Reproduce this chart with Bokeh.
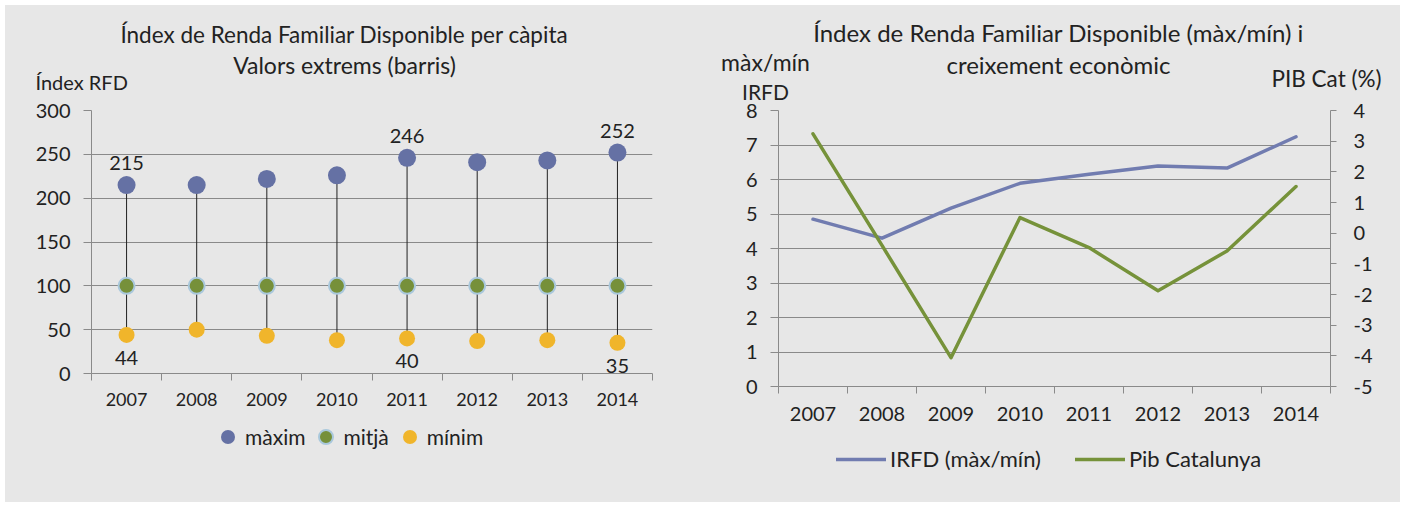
from bokeh.plotting import figure
from bokeh.models import (Range1d, LinearAxis, FixedTicker, Label, LabelSet,
                          Legend, LegendItem, ColumnDataSource, Spacer)
from bokeh.layouts import row, column
from bokeh.embed import file_html
from bokeh.resources import INLINE
from bokeh.core.properties import value

# ---------------- data ----------------
years = ["2007", "2008", "2009", "2010", "2011", "2012", "2013", "2014"]
rfd_max = [215, 215, 222, 226, 246, 241, 243, 252]
rfd_mean = [100, 100, 100, 100, 100, 100, 100, 100]
rfd_min = [44, 50, 43, 38, 40, 37, 38, 35]
labelled_years = ["2007", "2011", "2014"]
rfd_ticks = [0, 50, 100, 150, 200, 250, 300]

irfd_ratio = [4.85, 4.30, 5.17, 5.89, 6.15, 6.39, 6.33, 7.24]
pib_cat = [3.24, -0.40, -4.06, 0.51, -0.47, -1.88, -0.58, 1.52]
irfd_ticks = [0, 1, 2, 3, 4, 5, 6, 7, 8]
pib_ticks = [-5, -4, -3, -2, -1, 0, 1, 2, 3, 4]

# ---------------- style ----------------
FONT = "Lato"
BG = "#e7e7e7"
GRID = "#8a8a8a"
TXT = "#222222"
C_MAX = "#6571a4"
C_MEAN = "#76903a"
C_MEAN_EDGE = "#a9c8dc"
C_MIN = "#f0b52b"
C_BLUE = "#717cb0"
C_GREEN = "#76923a"

n = len(years)
xc = [i + 0.5 for i in range(n)]
xb = list(range(n + 1))

W_ALL, H_HEAD, H_FOOT, OVERLAP = 1395, 100, 78, 9


def base_fig(width, height, ymin, ymax, bl, br, bt, bb, xsize):
    p = figure(width=width, height=height, x_range=Range1d(0, n),
               y_range=Range1d(ymin, ymax), output_backend="svg",
               toolbar_location=None, min_border_left=bl, min_border_right=br,
               min_border_top=bt, min_border_bottom=bb,
               background_fill_color=BG, border_fill_color=BG,
               border_fill_alpha=0, outline_line_color=None)
    p.xgrid.visible = False
    ax = p.xaxis[0]
    ax.ticker = FixedTicker(ticks=xc, minor_ticks=xb)
    ax.major_label_overrides = {c: y for c, y in zip(xc, years)}
    ax.axis_line_color = GRID
    ax.major_tick_line_color = None
    ax.major_tick_out = 0
    ax.major_tick_in = 0
    ax.minor_tick_line_color = GRID
    ax.minor_tick_out = 7
    ax.minor_tick_in = 0
    ax.major_label_standoff = 12
    ax.major_label_text_font = FONT
    ax.major_label_text_font_size = xsize
    ax.major_label_text_color = TXT
    return p


def style_y(ax, ticks, standoff):
    ax.ticker = FixedTicker(ticks=ticks)
    ax.major_label_overrides = {t: str(t) for t in ticks}
    ax.axis_line_color = GRID
    ax.major_tick_line_color = GRID
    ax.major_tick_out = 8
    ax.major_tick_in = 0
    ax.minor_tick_line_color = None
    ax.major_label_standoff = standoff
    ax.major_label_text_font = FONT
    ax.major_label_text_font_size = "20px"
    ax.major_label_text_color = TXT


def blank_fig(width, height):
    # frame covers the whole strip; its ranges are unused (texts and
    # legends are placed in pixels)
    p = figure(width=width, height=height, x_range=Range1d(-2, -1),
               y_range=Range1d(-2, -1), output_backend="svg",
               toolbar_location=None, x_axis_type=None, y_axis_type=None,
               min_border=0, background_fill_color=BG, border_fill_color=BG,
               outline_line_color=None)
    p.grid.visible = False
    return p


# ---------------- header (titles and axis captions) ----------------
head = blank_fig(W_ALL, H_HEAD)
head_texts = [
    ("Índex de Renda Familiar Disponible per càpita", 339, 71, "22.5px", "center"),
    ("Valors extrems (barris)", 339, 41, "23px", "center"),
    ("Índex RFD", 30, 24, "20px", "left"),
    ("Índex de Renda Familiar Disponible (màx/mín) i", 1053, 73, "24px", "center"),
    ("creixement econòmic", 1053, 41, "24px", "center"),
    ("màx/mín", 760, 44, "23px", "center"),
    ("IRFD", 760, 14, "21px", "center"),
    ("PIB Cat (%)", 1321, 27, "22.5px", "center"),
]
for t, hx, hy, fs, al in head_texts:
    head.add_layout(Label(x=hx, y=hy, x_units="screen", y_units="screen",
                          text=t, text_font=FONT, text_font_size=fs,
                          text_color=TXT, text_align=al,
                          text_baseline="middle"))

# ---------------- left chart ----------------
p1 = base_fig(694, 315, 0, 300, 86, 47, 14, 38, "18px")
style_y(p1.yaxis[0], rfd_ticks, 13)
p1.ygrid.ticker = FixedTicker(ticks=rfd_ticks)
p1.ygrid.grid_line_color = GRID

p1.segment(x0=xc, y0=rfd_min, x1=xc, y1=rfd_max, line_color="#202020",
           line_width=1)
mk_max = dict(size=18, fill_color=C_MAX, line_color=None)
mk_mean = dict(size=16, fill_color=C_MEAN, line_color=C_MEAN_EDGE, line_width=2)
mk_min = dict(size=16, fill_color=C_MIN, line_color=None)
p1.scatter(xc, rfd_max, **mk_max)
p1.scatter(xc, rfd_mean, **mk_mean)
p1.scatter(xc, rfd_min, **mk_min)

idx = [years.index(y) for y in labelled_years]
src_top = ColumnDataSource(dict(x=[xc[i] for i in idx],
                                y=[rfd_max[i] for i in idx],
                                t=[str(rfd_max[i]) for i in idx]))
src_bot = ColumnDataSource(dict(x=[xc[i] for i in idx],
                                y=[rfd_min[i] for i in idx],
                                t=[str(rfd_min[i]) for i in idx]))
for src, off in ((src_top, 22), (src_bot, -23)):
    p1.add_layout(LabelSet(x="x", y="y", text="t", source=src, y_offset=off,
                           text_align="center", text_baseline="middle",
                           text_font=value(FONT), text_font_size="20px",
                           text_color=TXT))

# ---------------- right chart ----------------
p2 = base_fig(701, 328, 0, 8, 79, 70, 14, 38, "20px")
p2.xaxis[0].major_label_standoff = 13
style_y(p2.yaxis[0], irfd_ticks, 13)
p2.ygrid.ticker = FixedTicker(ticks=irfd_ticks)
p2.ygrid.grid_line_color = GRID
p2.extra_y_ranges = {"pib": Range1d(-5, 4)}
ax_r = LinearAxis(y_range_name="pib")
style_y(ax_r, pib_ticks, 17)
ax_r.major_tick_out = 6
p2.add_layout(ax_r, "right")

ln_irfd = dict(line_color=C_BLUE, line_width=3.5, line_join="round",
               line_cap="round")
ln_pib = dict(line_color=C_GREEN, line_width=3.5, line_join="round",
              line_cap="round")
p2.line(xc, irfd_ratio, **ln_irfd)
p2.line(xc, pib_cat, y_range_name="pib", **ln_pib)

# ---------------- footer (legends) ----------------
foot = blank_fig(W_ALL, H_FOOT)
f_max = foot.scatter(xc, rfd_max, **mk_max)
f_mean = foot.scatter(xc, rfd_mean, **mk_mean)
f_min = foot.scatter(xc, rfd_min, **mk_min)
f_irfd = foot.line(xc, irfd_ratio, **ln_irfd)
f_pib = foot.line(xc, pib_cat, **ln_pib)

leg_common = dict(orientation="horizontal", padding=0, margin=0,
                  background_fill_alpha=0, border_line_color=None,
                  label_text_font=FONT, label_text_color=TXT)
leg1 = Legend(items=[LegendItem(label="màxim", renderers=[f_max]),
                     LegendItem(label="mitjà", renderers=[f_mean]),
                     LegendItem(label="mínim", renderers=[f_min])],
              location=(205, 48), glyph_width=35, glyph_height=35,
              label_standoff=0, spacing=3, label_text_font_size="21px",
              **leg_common)
leg2 = Legend(items=[LegendItem(label="IRFD (màx/mín)", renderers=[f_irfd]),
                     LegendItem(label="Pib Catalunya", renderers=[f_pib])],
              location=(831, 30), glyph_width=50, glyph_height=24,
              label_standoff=4, spacing=34, label_text_font_size="22px",
              **leg_common)
foot.add_layout(leg1)
foot.add_layout(leg2)

charts = row(p1, p2, styles={"margin-top": f"-{OVERLAP}px"})
inner = column(head, charts, foot, styles={"background-color": BG})
page = column(Spacer(width=1400, height=5),
              row(Spacer(width=5, height=497), inner))
open("out.html", "w").write(file_html(page, INLINE))
